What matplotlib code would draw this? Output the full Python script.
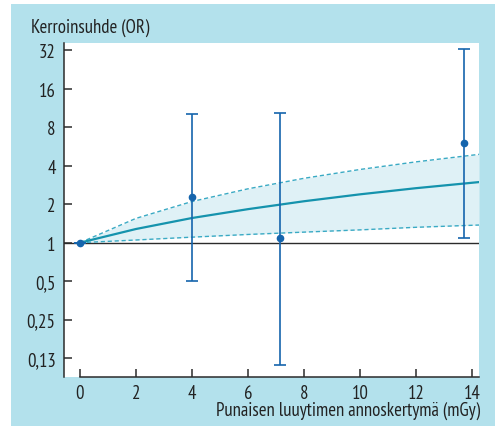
import numpy as np
import matplotlib
matplotlib.use("Agg")
import matplotlib.pyplot as plt
from matplotlib.patches import Rectangle

plt.rcParams['font.family'] = ['PT Sans Narrow', 'Fira Sans Condensed', 'DejaVu Sans']

# observed points (dose, OR, lower CI, upper CI)
dose = [0.0, 4.0, 7.15, 13.7]
odds = [1.0, 2.28, 1.09, 6.0]
ci_low = [1.0, 0.5, 0.11, 1.09]
ci_high = [1.0, 10.1, 10.4, 32.5]

# fitted curve and its confidence band
fit_x = [0, 2, 4, 6, 8, 10, 12, 14.25]
fit_y = [1.0, 1.28, 1.56, 1.83, 2.11, 2.39, 2.67, 2.98]
band_hi = [1.0, 1.55, 2.1, 2.64, 3.19, 3.74, 4.29, 4.91]
band_lo = [1.0, 1.05, 1.105, 1.16, 1.21, 1.26, 1.32, 1.375]

yticks = [0.125, 0.25, 0.5, 1, 2, 4, 8, 16, 32]
ylabels = ["0,13", "0,25", "0,5", "1", "2", "4", "8", "16", "32"]
xticks = [0, 2, 4, 6, 8, 10, 12, 14]

bg = '#b3e1ec'
dark = '#2b2b2b'
blue = '#1565ad'
teal = '#1593ad'

fig = plt.figure(figsize=(4.95, 4.27), dpi=100)
fig.patches.append(Rectangle((11 / 495, 0), 1, 1 - 5 / 427, transform=fig.transFigure,
                             facecolor=bg, edgecolor='none', zorder=-10))

ax = fig.add_axes([64 / 495, 1 - 378 / 427, 415 / 495, 334 / 427])
ax.set_facecolor('white')
ax.set_yscale('log', base=2)
ax.set_ylim(0.089, 36.5)
ax.set_xlim(-0.57, 14.25)

ax.axhline(1, color=dark, lw=1.0, zorder=2)

x = np.array(fit_x)
ax.fill_between(x, band_lo, band_hi, color='#dff1f6', lw=0, zorder=1)
ax.plot(x, band_hi, color='#3aaac4', lw=1.0, ls=(0, (3, 2)), zorder=3)
ax.plot(x, band_lo, color='#3aaac4', lw=1.0, ls=(0, (3, 2)), zorder=3)
ax.plot(x, fit_y, color=teal, lw=1.6, zorder=3)

o = np.array(odds)
yerr = [o - np.array(ci_low), np.array(ci_high) - o]
ax.errorbar(dose, odds, yerr=yerr, fmt='o', color=blue, ms=4.5, lw=1.2,
            capsize=4, capthick=1.2, zorder=4)

for s in ['top', 'right']:
    ax.spines[s].set_visible(False)
for s in ['left', 'bottom']:
    ax.spines[s].set_color(dark)
    ax.spines[s].set_linewidth(1.1)
ax.spines['bottom'].set_bounds(0, 14.25)

ax.set_yticks(yticks)
ax.set_yticklabels(ylabels)
ax.yaxis.set_minor_locator(plt.NullLocator())
ax.set_xticks(xticks)
ax.tick_params(direction='in', length=6, width=1.1, color=dark, labelcolor='#222222',
               labelsize=13.5)
ax.tick_params(axis='y', pad=6)
ax.tick_params(axis='x', pad=5)

fig.text(31 / 495, 1 - 28 / 427, "Kerroinsuhde (OR)", ha='left', va='center',
         fontsize=13.5, color='#222222')
fig.text(480 / 495, 1 - 411 / 427, "Punaisen luuytimen annoskertymä (mGy)",
         ha='right', va='center', fontsize=13.5, color='#222222')

fig.savefig('out.png', dpi=100)
